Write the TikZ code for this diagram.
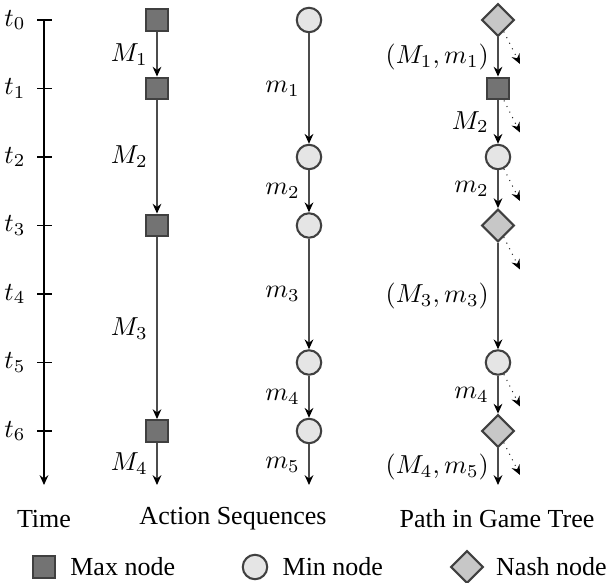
\documentclass[tikz,border=0pt]{standalone}
\usepackage[no-math]{fontspec}
\setmainfont{Liberation Serif}
\usepackage{amsmath}
\usetikzlibrary{shapes.geometric,arrows.meta,positioning,calc}

\begin{document}
\begin{tikzpicture}
  [x=0.3846pt,y=-0.3846pt,
   maxnode/.style={rectangle,draw=black!75,fill=black!55,line width=0.8pt,minimum size=8.4pt,inner sep=0pt},
   minnode/.style={circle,draw=black!75,fill=black!10,line width=0.8pt,minimum size=9.4pt,inner sep=0pt},
   nashnode/.style={diamond,draw=black!75,fill=black!22,line width=0.8pt,minimum size=12.6pt,inner sep=0pt}]
 \tikzset{MoveStyle/.style={-{Stealth[length=3.8pt,width=3.4pt,inset=1.3pt,black]},draw=black!70,thin},
  AltStyle/.style={-{Stealth[length=3.8pt,width=3.4pt,inset=1.3pt,black]},draw=black!85,thin,dotted}}
 \useasboundingbox (0,0) rectangle (610,583);

 % time axis
 \coordinate (time-top) at (44,20);
 \coordinate (time-end) at (44,485);
 \draw[-{Stealth[length=3.8pt,width=3.4pt,inset=1.3pt]}] (time-top) -- (time-end);
 \foreach \i in {0,...,6} {
   \node (t\i) at (15,20+68.5*\i) {$t_{\i}$};
   \draw (37,20+68.5*\i) -- (52,20+68.5*\i);
 }

 % action sequences
 \node[maxnode] (a0) at (157,20) {};
 \node[maxnode] (a1) at (157,88.5) {};
 \node[maxnode] (a3) at (157,225.5) {};
 \node[maxnode] (a6) at (157,431) {};
 \coordinate (a-end) at (157,485);
 \node[minnode] (b0) at (309,20) {};
 \node[minnode] (b2) at (309,157) {};
 \node[minnode] (b3) at (309,225.5) {};
 \node[minnode] (b5) at (309,362.5) {};
 \node[minnode] (b6) at (309,431) {};
 \coordinate (b-end) at (309,485);

 \foreach \from/\to/\lab in {a0/a1/M_1,a1/a3/M_2,a3/a6/M_3,a6/a-end/M_4,
   b0/b2/m_1,b2/b3/m_2,b3/b5/m_3,b5/b6/m_4,b6/b-end/m_5}
    \draw[MoveStyle] (\from) -- node[left] {$\lab$} (\to);

 % path in game tree
 \node[nashnode] (p0) at (498,20) {};
 \node[maxnode] (p1) at (498,88.5) {};
 \node[minnode] (p2) at (498,157) {};
 \node[nashnode] (p3) at (498,225.5) {};
 \node[minnode] (p5) at (498,362.5) {};
 \node[nashnode] (p6) at (498,431) {};
 \coordinate (p-end) at (498,485);

 \foreach \from/\to/\lab in {p0/p1/{(M_1,m_1)},p1/p2/M_2,p2/p3/m_2,
   p3/p5/{(M_3,m_3)},p5/p6/m_4,p6/p-end/{(M_4,m_5)}}
    \draw[MoveStyle] (\from) -- node[left] {$\lab$} (\to);

 \foreach \n in {p0,p1,p2,p3,p5,p6} {
   \coordinate (\n-alt) at ($(\n)+(22,44)$);
   \draw[AltStyle] (\n) -- (\n-alt);
 }

 % headings
 \node (time) at (44,519) {Time};
 \node (seq) at (233,519) {Action Sequences};
 \node (path) at (497,519) {Path in Game Tree};

 % legend
 \node[maxnode] (lmax) at (44,567) {};
 \node[right=2pt of lmax] (lmax-text) {Max node};
 \node[minnode] (lmin) at (255,567) {};
 \node[right=2pt of lmin] (lmin-text) {Min node};
 \node[nashnode] (lnash) at (467,567) {};
 \node[right=1pt of lnash] (lnash-text) {Nash node};

\end{tikzpicture}
\end{document}
